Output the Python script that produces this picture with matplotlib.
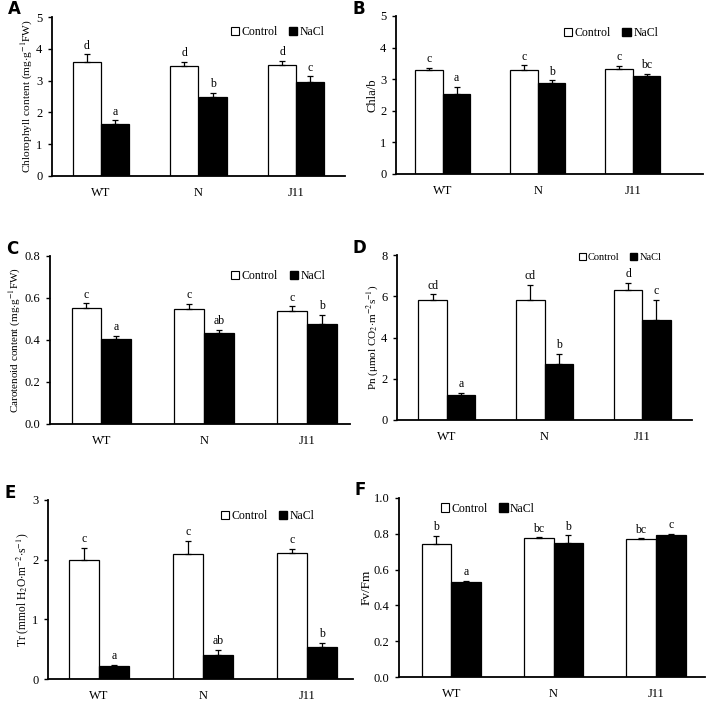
import numpy as np
import matplotlib
matplotlib.use('Agg')
import matplotlib.pyplot as plt
from matplotlib.patches import Patch

plt.rcParams['font.family'] = ['Liberation Serif', 'DejaVu Serif']
plt.rcParams['mathtext.fontset'] = 'stix'

genotypes = ['WT', 'N', 'J11']

# panel A - chlorophyll
chl_ctrl = [3.57, 3.46, 3.49]
chl_ctrl_err = [0.26, 0.13, 0.13]
chl_nacl = [1.63, 2.49, 2.96]
chl_nacl_err = [0.12, 0.13, 0.17]
chl_ctrl_sig = ['d', 'd', 'd']
chl_nacl_sig = ['a', 'b', 'c']

# panel B - chla/b
ab_ctrl = [3.28, 3.30, 3.32]
ab_ctrl_err = [0.08, 0.14, 0.11]
ab_nacl = [2.54, 2.87, 3.10]
ab_nacl_err = [0.22, 0.09, 0.08]
ab_ctrl_sig = ['c', 'c', 'c']
ab_nacl_sig = ['a', 'b', 'bc']

# panel C - carotenoid
car_ctrl = [0.553, 0.548, 0.539]
car_ctrl_err = [0.022, 0.025, 0.022]
car_nacl = [0.406, 0.433, 0.477]
car_nacl_err = [0.013, 0.016, 0.043]
car_ctrl_sig = ['c', 'c', 'c']
car_nacl_sig = ['a', 'ab', 'b']

# panel D - Pn
pn_ctrl = [5.84, 5.84, 6.32]
pn_ctrl_err = [0.27, 0.72, 0.34]
pn_nacl = [1.19, 2.71, 4.87]
pn_nacl_err = [0.13, 0.50, 0.97]
pn_ctrl_sig = ['cd', 'cd', 'd']
pn_nacl_sig = ['a', 'b', 'c']

# panel E - Tr
tr_ctrl = [2.00, 2.09, 2.11]
tr_ctrl_err = [0.20, 0.22, 0.07]
tr_nacl = [0.22, 0.41, 0.53]
tr_nacl_err = [0.012, 0.08, 0.08]
tr_ctrl_sig = ['c', 'c', 'c']
tr_nacl_sig = ['a', 'ab', 'b']

# panel F - Fv/Fm
fv_ctrl = [0.744, 0.775, 0.770]
fv_ctrl_err = [0.043, 0.005, 0.004]
fv_nacl = [0.530, 0.747, 0.794]
fv_nacl_err = [0.006, 0.045, 0.004]
fv_ctrl_sig = ['b', 'bc', 'bc']
fv_nacl_sig = ['a', 'b', 'c']

W, H = 713, 710
fig = plt.figure(figsize=(W / 100, H / 100), dpi=100)


def px_axes(l, t, r, b):
    return fig.add_axes([l / W, 1 - b / H, (r - l) / W, (b - t) / H])


def panel(box, letter, ctrl, ctrl_err, nacl, nacl_err, ctrl_sig, nacl_sig,
          ylim, yticks, ylabel, xlim, leg_pos, leg_size=8.5, fmt=None,
          ylab_size=8.3, letter_y=8):
    ax = px_axes(*box)
    x = np.arange(len(genotypes))
    w = 0.29
    ax.bar(x - w / 2, ctrl, w, color='white', edgecolor='black', linewidth=0.9,
           yerr=[np.zeros(3), ctrl_err], capsize=2.5,
           error_kw=dict(elinewidth=0.9, capthick=0.9, ecolor='black'))
    ax.bar(x + w / 2, nacl, w, color='black', edgecolor='black', linewidth=0.9,
           yerr=[np.zeros(3), nacl_err], capsize=2.5,
           error_kw=dict(elinewidth=0.9, capthick=0.9, ecolor='black'))
    off = (ylim[1] - ylim[0]) * 0.015
    for i in range(3):
        ax.text(x[i] - w / 2, ctrl[i] + ctrl_err[i] + off, ctrl_sig[i],
                ha='center', va='bottom', fontsize=8.5)
        ax.text(x[i] + w / 2, nacl[i] + nacl_err[i] + off, nacl_sig[i],
                ha='center', va='bottom', fontsize=8.5)
    ax.set_xlim(*xlim)
    ax.set_ylim(*ylim)
    ax.set_yticks(yticks)
    if fmt:
        ax.set_yticklabels([fmt.format(v) for v in yticks])
    ax.set_xticks(x)
    ax.set_xticklabels(genotypes)
    ax.tick_params(axis='x', length=0, pad=8, labelsize=9)
    ax.tick_params(axis='y', length=3, width=1, direction='out', labelsize=9, pad=4)
    for s in ['top', 'right']:
        ax.spines[s].set_visible(False)
    ax.spines['left'].set_linewidth(1.3)
    ax.spines['bottom'].set_linewidth(1.3)
    ax.set_ylabel(ylabel, fontsize=ylab_size, labelpad=1)
    handles = [Patch(facecolor='white', edgecolor='black', linewidth=0.8, label='Control'),
               Patch(facecolor='black', edgecolor='black', label='NaCl')]
    ax.legend(handles=handles, loc='center', bbox_to_anchor=leg_pos, ncol=2,
              frameon=False, fontsize=leg_size, handlelength=0.7, handleheight=0.7,
              handletextpad=0.2, columnspacing=1.0, borderpad=0)
    fig.text((box[0] - 44) / W, 1 - letter_y / H, letter, fontsize=12,
             fontweight='bold', family='DejaVu Sans', ha='left', va='center')
    return ax


panel((52, 17, 345, 176), 'A', chl_ctrl, chl_ctrl_err, chl_nacl, chl_nacl_err,
      chl_ctrl_sig, chl_nacl_sig, (0, 5), [0, 1, 2, 3, 4, 5],
      r'Chlorophyll content (mg$\cdot$g$^{-1}$FW)', (-0.50, 2.50), (0.77, 0.906),
      ylab_size=8.2, letter_y=9)

panel((396, 16, 703, 174), 'B', ab_ctrl, ab_ctrl_err, ab_nacl, ab_nacl_err,
      ab_ctrl_sig, ab_nacl_sig, (0, 5), [0, 1, 2, 3, 4, 5],
      'Chla/b', (-0.495, 2.74), (0.70, 0.892), ylab_size=9, letter_y=9)

panel((50, 256, 350, 424), 'C', car_ctrl, car_ctrl_err, car_nacl, car_nacl_err,
      car_ctrl_sig, car_nacl_sig, (0, 0.8), [0, 0.2, 0.4, 0.6, 0.8],
      r'Carotenoid content (mg$\cdot$g$^{-1}$FW)', (-0.50, 2.42), (0.76, 0.879),
      fmt='{:.1f}', ylab_size=8, letter_y=249)

panel((397, 255, 692, 420), 'D', pn_ctrl, pn_ctrl_err, pn_nacl, pn_nacl_err,
      pn_ctrl_sig, pn_nacl_sig, (0, 8), [0, 2, 4, 6, 8],
      r'Pn (μmol CO$_2$$\cdot$m$^{-2}$s$^{-1}$)', (-0.51, 2.51), (0.756, 0.986),
      leg_size=7.5, ylab_size=8, letter_y=248)

panel((48, 500, 353, 679), 'E', tr_ctrl, tr_ctrl_err, tr_nacl, tr_nacl_err,
      tr_ctrl_sig, tr_nacl_sig, (0, 3), [0, 1, 2, 3],
      r'Tr (mmol H$_2$O$\cdot$m$^{-2}$$\cdot$s$^{-1}$)', (-0.49, 2.44), (0.72, 0.91),
      ylab_size=8.3, letter_y=493)

panel((399, 498, 705, 677), 'F', fv_ctrl, fv_ctrl_err, fv_nacl, fv_nacl_err,
      fv_ctrl_sig, fv_nacl_sig, (0, 1.0), [0, 0.2, 0.4, 0.6, 0.8, 1.0],
      'Fv/Fm', (-0.51, 2.48), (0.29, 0.94), fmt='{:.1f}', ylab_size=9.5,
      letter_y=490)

fig.savefig('out.png', dpi=100)
